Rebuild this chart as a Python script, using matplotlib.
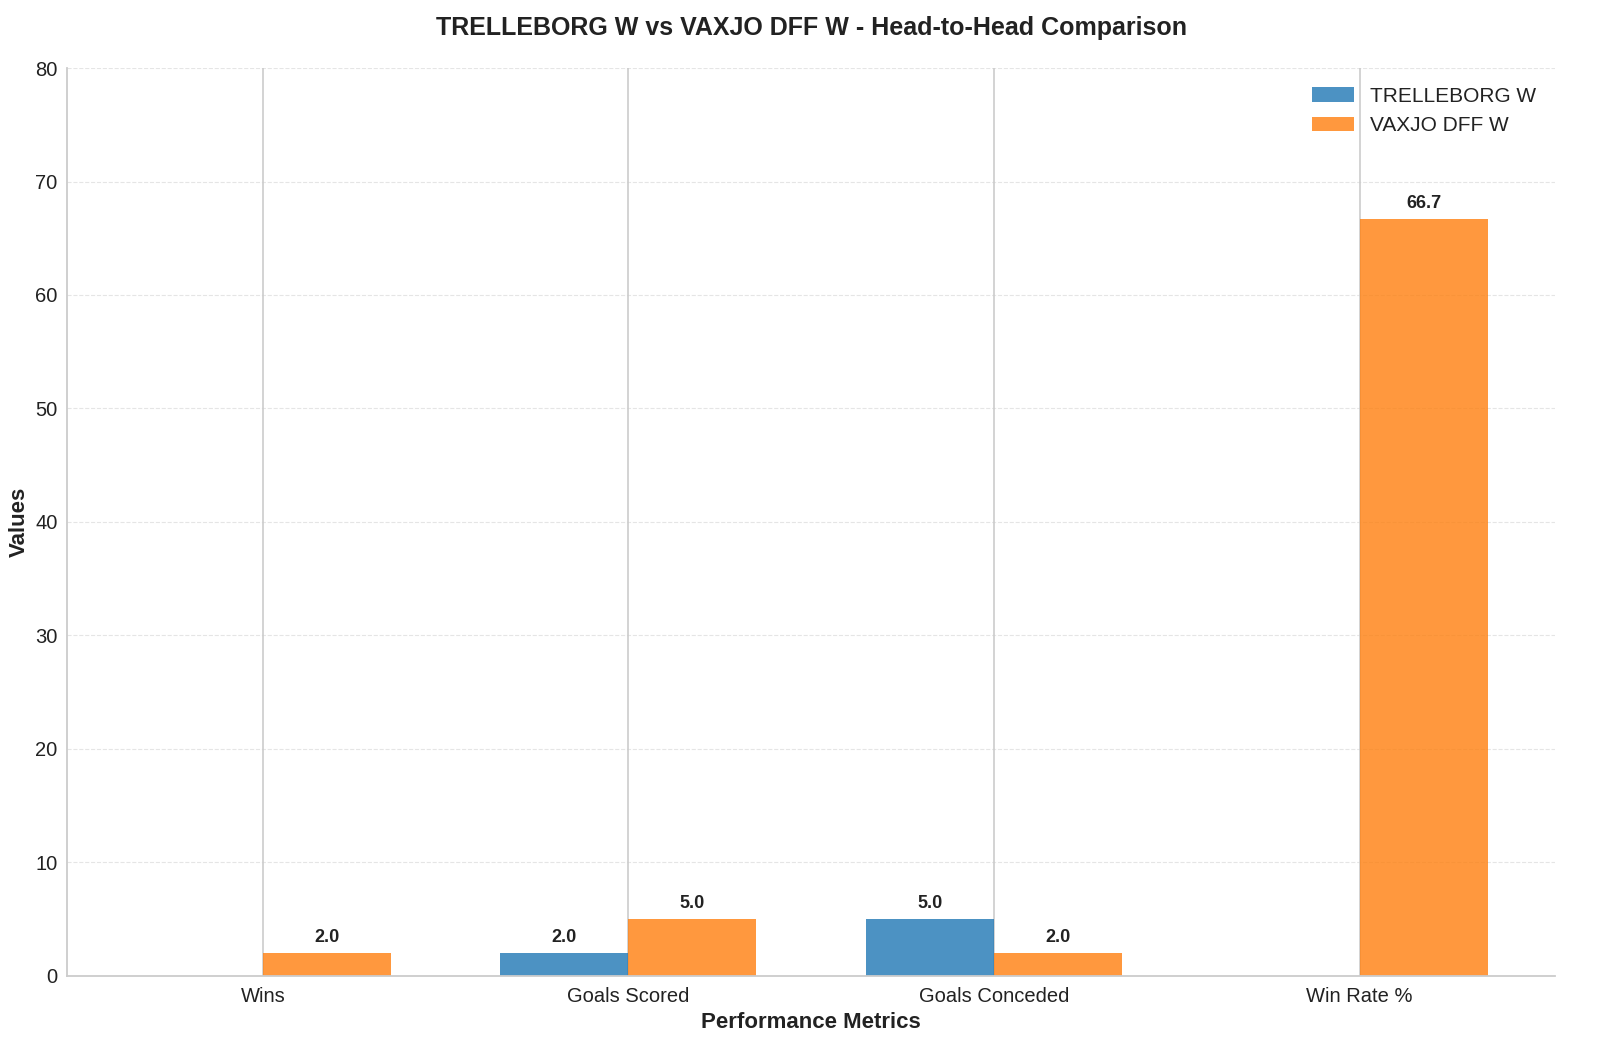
import numpy as np
import matplotlib
matplotlib.use('Agg')
import matplotlib.pyplot as plt
import seaborn as sns

sns.set_style('whitegrid')
plt.rcParams['font.family'] = ['Liberation Sans', 'DejaVu Sans']

metrics = ['Wins', 'Goals Scored', 'Goals Conceded', 'Win Rate %']
team1 = 'TRELLEBORG W'
team2 = 'VAXJO DFF W'
team1_values = [0, 2, 5, 0]
team2_values = [2, 5, 2, 66.7]

x = np.arange(len(metrics))
width = 0.35

fig, ax = plt.subplots(figsize=(16, 10.63), dpi=100)
bars1 = ax.bar(x - width / 2, team1_values, width, label=team1, color='#1f77b4', alpha=0.8, linewidth=0)
bars2 = ax.bar(x + width / 2, team2_values, width, label=team2, color='#ff7f0e', alpha=0.8, linewidth=0)

# підписи значень над стовпчиками
for bars in (bars1, bars2):
    for bar in bars:
        h = bar.get_height()
        if h > 0:
            ax.text(bar.get_x() + bar.get_width() / 2, h + 0.6, f'{h:.1f}',
                    ha='center', va='bottom', fontsize=13, fontweight='bold', color='#222222')

ax.set_title(f'{team1} vs {team2} - Head-to-Head Comparison',
             fontsize=18, fontweight='bold', pad=24, color='#222222')
ax.set_xlabel('Performance Metrics', fontsize=16, fontweight='bold', color='#222222', labelpad=4)
ax.set_ylabel('Values', fontsize=16, fontweight='bold', color='#222222')
ax.set_xticks(x)
ax.set_xticklabels(metrics, fontsize=14.5)
ax.tick_params(axis='y', labelsize=14.5, pad=7)
ax.tick_params(axis='x', pad=8)
ax.tick_params(axis='both', length=0, colors='#222222')
ax.set_ylim(0, 80)

ax.grid(axis='y', linestyle='--', alpha=0.5)
ax.grid(axis='x', color='#cccccc', linestyle='-', linewidth=1.2)
ax.spines['top'].set_visible(False)
ax.spines['right'].set_visible(False)
for s in ('left', 'bottom'):
    ax.spines[s].set_color('#cccccc')
    ax.spines[s].set_linewidth(1.3)
leg = ax.legend(fontsize=15, frameon=False, loc='upper right')
for t in leg.get_texts():
    t.set_color('#222222')

plt.subplots_adjust(left=0.042, right=0.972, top=0.936, bottom=0.082)
plt.savefig('out.png', dpi=100)
